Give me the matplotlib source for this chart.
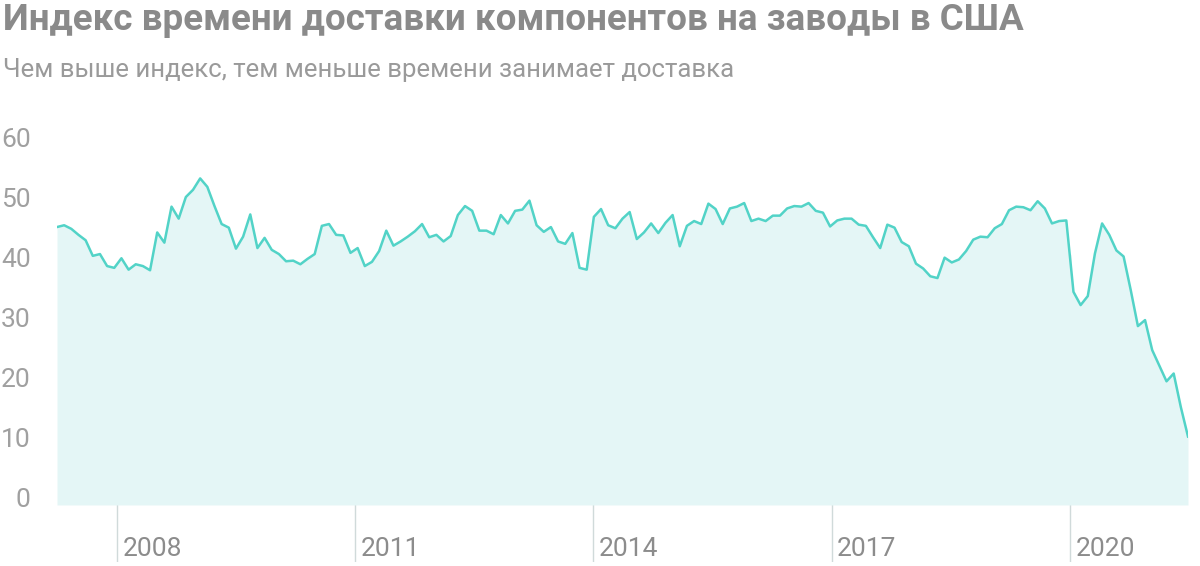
import matplotlib
matplotlib.use("Agg")
import matplotlib.pyplot as plt
import numpy as np
import pandas as pd

values = [45.0,45.3,44.7,43.7,42.8,40.2,40.5,38.5,38.2,39.8,37.9,38.8,38.5,37.8,44.1,42.4,48.4,46.4,50.0,51.2,53.1,51.7,48.5,45.5,44.9,41.4,43.4,47.1,41.5,43.2,41.2,40.5,39.3,39.4,38.8,39.7,40.5,45.2,45.5,
          43.7,43.6,40.7,41.5,38.5,39.2,41.0,44.4,41.9,42.6,43.4,44.3,45.5,43.3,43.7,42.6,43.5,47.0,48.5,47.7,44.4,44.4,43.8,47.0,45.6,47.7,47.9,49.4,45.3,44.2,45.0,42.6,42.2,44.0,38.2,37.9,46.7,48.0,45.3,44.8,46.4,
          47.5,43.0,44.1,45.6,44.0,45.7,47.0,41.8,45.2,46.0,45.5,48.9,48.0,45.5,48.1,48.4,49.0,46.0,46.4,46.0,46.9,46.9,48.1,48.5,48.4,49.0,47.7,47.4,45.1,46.1,46.4,46.4,45.4,45.2,43.3,41.5,45.4,44.9,42.5,
          41.8,38.9,38.1,36.8,36.5,39.9,39.1,39.6,41.0,42.9,43.4,43.3,44.8,45.5,47.8,48.4,48.3,47.8,49.3,48.1,45.6,46.0,46.1,34.2,32.0,33.5,40.6,45.6,43.7,41.1,40.1,34.5,28.5,29.5,24.5,21.9,19.3,20.6,15.0,10.1]
dates = pd.date_range("2007-04-01", "2021-06-28", periods=len(values))
tick_years = [2008, 2011, 2014, 2017, 2020]
yticks = [0, 10, 20, 30, 40, 50, 60]

title = "Индекс времени доставки компонентов на заводы в США"
subtitle = "Чем выше индекс, тем меньше времени занимает доставка"

plt.rcParams['font.family'] = ['Roboto', 'DejaVu Sans']
W, H = 1200, 566
fig = plt.figure(figsize=(W/100, H/100), dpi=100)
ax = fig.add_axes([57/W, 1-562/H, (1188-57)/W, (562-125)/H])
x = matplotlib.dates.date2num(dates)
ybot = -1.3
ax.fill_between(x, ybot, values, color="#e4f6f6", lw=0)
ax.plot(x, values, color="#52d3c7", lw=1.8)
for yr in tick_years:
    tx = matplotlib.dates.date2num(pd.Timestamp(f"{yr}-01-01"))
    top = np.interp(tx, x, values)
    ax.plot([tx, tx], [-10.8, top], color="#d0dada", lw=1, zorder=0.5)
    ax.annotate(str(yr), (tx, -8.6), xytext=(4, 0), textcoords="offset points",
                ha="left", va="center", fontsize=19, color="#8c8c8c")
ax.set_xlim(x[0], x[-1])
ax.set_ylim(-10.8, 62)
ax.set_yticks(yticks)
ax.set_yticklabels([str(v) for v in yticks], fontsize=19, color="#a0a0a0")
ax.tick_params(axis="y", length=0, pad=19)
ax.set_xticks([])
for s in ax.spines.values():
    s.set_visible(False)
fig.text(3/W, 1-20/H, title, fontsize=26.5, fontweight="bold", color="#8a8a8a", va="center", ha="left")
fig.text(3/W, 1-70/H, subtitle, fontsize=18.5, color="#9a9a9a", va="center", ha="left")
fig.savefig("out.png", dpi=100)
